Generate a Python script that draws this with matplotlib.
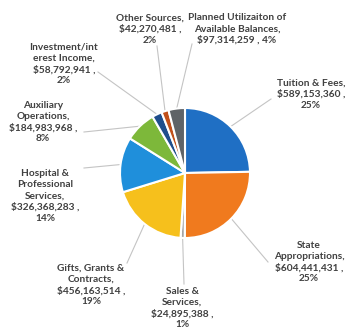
import numpy as np
import matplotlib.pyplot as plt

# Revenue sources, clockwise from 12 o'clock
sources = ["Tuition & Fees", "State Appropriations", "Sales & Services",
           "Gifts, Grants & Contracts", "Hospital & Professional Services",
           "Auxiliary Operations", "Investment/interest Income",
           "Other Sources", "Planned Utilizaiton of Available Balances"]
amounts = [589153360, 604441431, 24895388, 456163514, 326368283,
           184983968, 58792941, 42270481, 97314259]
pct_labels = ["25%", "25%", "1%", "19%", "14%", "8%", "2%", "2%", "4%"]
label_texts = [
    "Tuition & Fees,\n$589,153,360 ,\n25%",
    "State\nAppropriations,\n$604,441,431 ,\n25%",
    "Sales &\nServices,\n$24,895,388 ,\n1%",
    "Gifts, Grants &\nContracts,\n$456,163,514 ,\n19%",
    "Hospital &\nProfessional\nServices,\n$326,368,283 ,\n14%",
    "Auxiliary\nOperations,\n$184,983,968 ,\n8%",
    "Investment/int\nerest Income,\n$58,792,941 ,\n2%",
    "Other Sources,\n$42,270,481 ,\n2%",
    "Planned Utilizaiton of\nAvailable Balances,\n$97,314,259 , 4%",
]
colors = ["#1f6fc4", "#f07a1e", "#a5a5a5", "#f6c01c", "#1f8fdb",
          "#7db83a", "#1f4e8c", "#c1501a", "#5f6367"]

W, H = 349, 333
cx, cy, r = 185, H - 173, 65

# label centre (x, y from top) and where the leader line leaves the label
label_pos = [(311, 94), (309, 262), (182, 308), (91, 285), (45, 196),
             (43, 122), (64, 64), (150, 29), (237, 29)]
line_start = [(271, 99), (268, 262), (184, 284), (127, 263), (84, 168),
              (84, 132), (98, 72), (157, 46), (192, 44)]

plt.rcParams['font.family'] = ['Lato', 'DejaVu Sans']
fig = plt.figure(figsize=(W / 100, H / 100), dpi=100)
ax = fig.add_axes([0, 0, 1, 1])

wedges, _ = ax.pie(amounts, colors=colors, startangle=90, counterclock=False,
                   center=(cx, cy), radius=r, frame=True,
                   wedgeprops=dict(edgecolor='white', linewidth=1.5))
ax.set_xlim(0, W)
ax.set_ylim(0, H)
ax.set_aspect('equal')
ax.axis('off')

for w, txt, (lx, ly), (sx, sy) in zip(wedges, label_texts, label_pos, line_start):
    mid = np.deg2rad((w.theta1 + w.theta2) / 2)
    ex, ey = cx + r * np.cos(mid), cy + r * np.sin(mid)
    ax.plot([sx, ex], [H - sy, ey], color='#c4c4c4', lw=0.8, zorder=0)
    ax.text(lx, H - ly, txt, ha='center', va='center', fontsize=7.3,
            color='#404040', linespacing=1.3, fontweight='bold')

fig.savefig("out.png", dpi=100, facecolor='white')
